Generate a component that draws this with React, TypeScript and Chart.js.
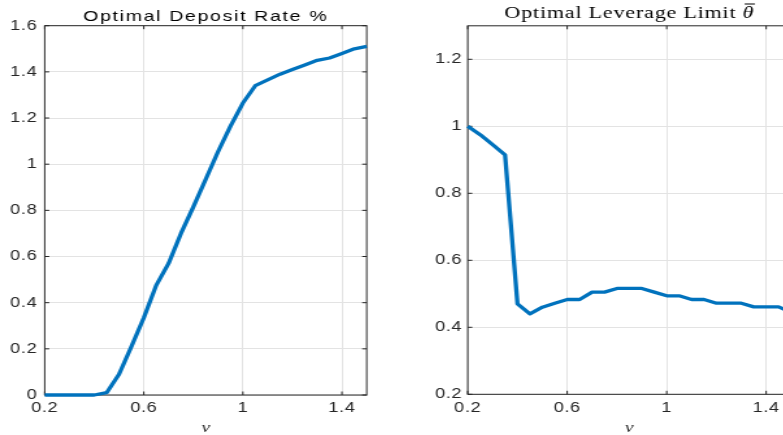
import { useEffect, useRef } from "react";
import { Chart, registerables } from "chart.js";

Chart.register(...registerables);

// Grid of the price-sensitivity parameter ν
const nu = [
  0.2, 0.25, 0.3, 0.35, 0.4, 0.45, 0.5, 0.55, 0.6, 0.65, 0.7, 0.75, 0.8, 0.85,
  0.9, 0.95, 1.0, 1.05, 1.1, 1.15, 1.2, 1.25, 1.3, 1.35, 1.4, 1.45, 1.5,
];

// Optimal deposit rate (%) for each ν
const depositRate = [
  0, 0, 0, 0, 0, 0.01, 0.09, 0.21, 0.335, 0.475, 0.57, 0.7, 0.815, 0.935,
  1.055, 1.165, 1.265, 1.34, 1.365, 1.39, 1.41, 1.43, 1.45, 1.46, 1.48, 1.5,
  1.51,
];

// Optimal leverage limit θ̄ for each ν
const leverageLimit = [
  1.0, 0.975, 0.945, 0.915, 0.47, 0.44, 0.46, 0.472, 0.483, 0.483, 0.505,
  0.505, 0.516, 0.516, 0.516, 0.505, 0.494, 0.494, 0.483, 0.483, 0.472, 0.472,
  0.472, 0.461, 0.461, 0.461, 0.445,
];

const nuTicks = [0.2, 0.6, 1, 1.4];
const depositTicks = [0, 0.2, 0.4, 0.6, 0.8, 1, 1.2, 1.4, 1.6];
const leverageTicks = [0.2, 0.4, 0.6, 0.8, 1, 1.2];

const LINE_BLUE = "#0072BD";
const AXIS_GRAY = "#262626";
const GRID_GRAY = "#e3e3e3";
const STRETCH = 1.3; // horizontal stretch of each panel
const BOX_W = 308;
const BOX_H = 435;

type PanelProps = {
  left: number;
  values: number[];
  yMin: number;
  yMax: number;
  yTicks: number[];
  axisWidth: number;
  padRight: number;
  padTop: number;
  xAxisHeight: number;
  yPad: number;
  drawTitle: (ctx: CanvasRenderingContext2D, cx: number) => void;
};

function Panel(props: PanelProps) {
  const ref = useRef<HTMLCanvasElement | null>(null);

  useEffect(() => {
    const canvas = ref.current;
    if (!canvas) return;

    // slightly wider tick lettering
    const spacingPlugin = {
      id: "spacing",
      beforeDraw(chart: any) {
        (chart.ctx as any).letterSpacing = "0.5px";
      },
    };

    const framePlugin = {
      id: "frame",
      beforeDatasetsDraw(chart: any) {
        const { ctx, chartArea: a, scales } = chart;
        ctx.save();
        ctx.strokeStyle = AXIS_GRAY;
        ctx.lineWidth = 1;
        ctx.strokeRect(a.left, a.top, a.right - a.left, a.bottom - a.top);
        ctx.beginPath();
        const tv = 3.5;
        const th = 3.5;
        scales.x.ticks.forEach((t: any) => {
          const px = scales.x.getPixelForValue(t.value);
          ctx.moveTo(px, a.bottom);
          ctx.lineTo(px, a.bottom - tv);
          ctx.moveTo(px, a.top);
          ctx.lineTo(px, a.top + tv);
        });
        scales.y.ticks.forEach((t: any) => {
          const py = scales.y.getPixelForValue(t.value);
          ctx.moveTo(a.left, py);
          ctx.lineTo(a.left + th, py);
          ctx.moveTo(a.right, py);
          ctx.lineTo(a.right - th, py);
        });
        ctx.stroke();
        ctx.restore();
      },
    };

    const labelPlugin = {
      id: "labels",
      afterDraw(chart: any) {
        const { ctx, chartArea: a } = chart;
        const cx = (a.left + a.right) / 2;
        ctx.save();
        props.drawTitle(ctx, cx);
        ctx.letterSpacing = "0px";
        ctx.fillStyle = AXIS_GRAY;
        ctx.font = 'italic 15px "Liberation Serif"';
        ctx.textAlign = "center";
        ctx.textBaseline = "alphabetic";
        ctx.fillText("ν", cx, 432);
        ctx.restore();
      },
    };

    const tickFont = { family: '"Liberation Sans", Arial, sans-serif', size: 14 };

    const chart = new Chart(canvas, {
      type: "line",
      data: {
        datasets: [
          {
            data: nu.map((x, i) => ({ x, y: props.values[i] })),
            borderColor: LINE_BLUE,
            borderWidth: 3.3,
            pointRadius: 0,
            fill: false,
            tension: 0,
            borderJoinStyle: "round",
            borderCapStyle: "butt",
            clip: false,
          } as any,
        ],
      },
      options: {
        animation: false,
        responsive: false,
        devicePixelRatio: 1,
        layout: {
          padding: { top: props.padTop, right: props.padRight, left: 0, bottom: 0 },
        },
        plugins: {
          legend: { display: false },
          tooltip: { enabled: false },
          title: { display: false },
        },
        scales: {
          x: {
            type: "linear",
            min: 0.2,
            max: 1.5,
            afterBuildTicks: (s: any) => {
              s.ticks = nuTicks.map((v) => ({ value: v }));
            },
            afterFit: (s: any) => {
              s.height = props.xAxisHeight;
            },
            grid: { color: GRID_GRAY, lineWidth: 1, drawTicks: false },
            border: { display: false },
            ticks: {
              padding: 5,
              color: AXIS_GRAY,
              font: tickFont,
              maxRotation: 0,
              autoSkip: false,
              callback: (v: any) => String(v),
            },
          },
          y: {
            type: "linear",
            min: props.yMin,
            max: props.yMax,
            afterBuildTicks: (s: any) => {
              s.ticks = props.yTicks.map((v) => ({ value: v }));
            },
            afterFit: (s: any) => {
              s.width = props.axisWidth;
            },
            grid: { color: GRID_GRAY, lineWidth: 1, drawTicks: false },
            border: { display: false },
            ticks: {
              padding: props.yPad,
              color: AXIS_GRAY,
              font: tickFont,
              autoSkip: false,
              callback: (v: any) => String(v),
            },
          },
        },
      },
      plugins: [spacingPlugin, framePlugin, labelPlugin],
    });

    return () => chart.destroy();
  }, []);

  return (
    <div
      style={{
        position: "absolute",
        left: props.left,
        top: 0,
        width: BOX_W,
        height: BOX_H,
        transform: `scaleX(${STRETCH})`,
        transformOrigin: "0 0",
      }}
    >
      <canvas ref={ref} width={BOX_W} height={BOX_H} />
    </div>
  );
}

function drawDepositTitle(ctx: CanvasRenderingContext2D, cx: number) {
  (ctx as any).letterSpacing = "1.3px";
  ctx.fillStyle = "#000";
  ctx.font = '15px "Liberation Sans", Arial, sans-serif';
  ctx.textAlign = "center";
  ctx.textBaseline = "alphabetic";
  ctx.fillText("Optimal Deposit Rate %", cx, 20.5);
}

function drawLeverageTitle(ctx: CanvasRenderingContext2D, cx: number) {
  const main = "Optimal Leverage Limit ";
  const sym = "θ";
  const baseline = 18;
  (ctx as any).letterSpacing = "0.6px";
  ctx.fillStyle = "#000";
  ctx.textAlign = "left";
  ctx.textBaseline = "alphabetic";
  ctx.font = '17px "Liberation Serif", serif';
  const w1 = ctx.measureText(main).width;
  ctx.font = 'italic 17px "Liberation Serif", serif';
  const w2 = ctx.measureText(sym).width;
  const x0 = cx - (w1 + w2) / 2;
  ctx.font = '17px "Liberation Serif", serif';
  ctx.fillText(main, x0, baseline);
  ctx.font = 'italic 17px "Liberation Serif", serif';
  ctx.fillText(sym, x0 + w1, baseline);
  // bar over θ
  ctx.strokeStyle = "#000";
  ctx.lineWidth = 1;
  ctx.beginPath();
  ctx.moveTo(x0 + w1 + 1.5, baseline - 14);
  ctx.lineTo(x0 + w1 + w2 + 0.5, baseline - 14);
  ctx.stroke();
}

export default function App() {
  return (
    <div
      style={{
        position: "fixed",
        left: 0,
        top: 0,
        width: 783,
        height: 435,
        overflow: "hidden",
        background: "#fff",
      }}
    >
      <Panel
        left={0}
        values={depositRate}
        yMin={0}
        yMax={1.6}
        yTicks={depositTicks}
        axisWidth={34.4}
        padRight={25.9}
        padTop={25.7}
        xAxisHeight={40}
        yPad={5.6}
        drawTitle={drawDepositTitle}
      />
      <Panel
        left={400}
        values={leverageLimit}
        yMin={0.2}
        yMax={1.3}
        yTicks={leverageTicks}
        axisWidth={52.1}
        padRight={7.2}
        padTop={25.8}
        xAxisHeight={40.7}
        yPad={4.2}
        drawTitle={drawLeverageTitle}
      />
    </div>
  );
}
